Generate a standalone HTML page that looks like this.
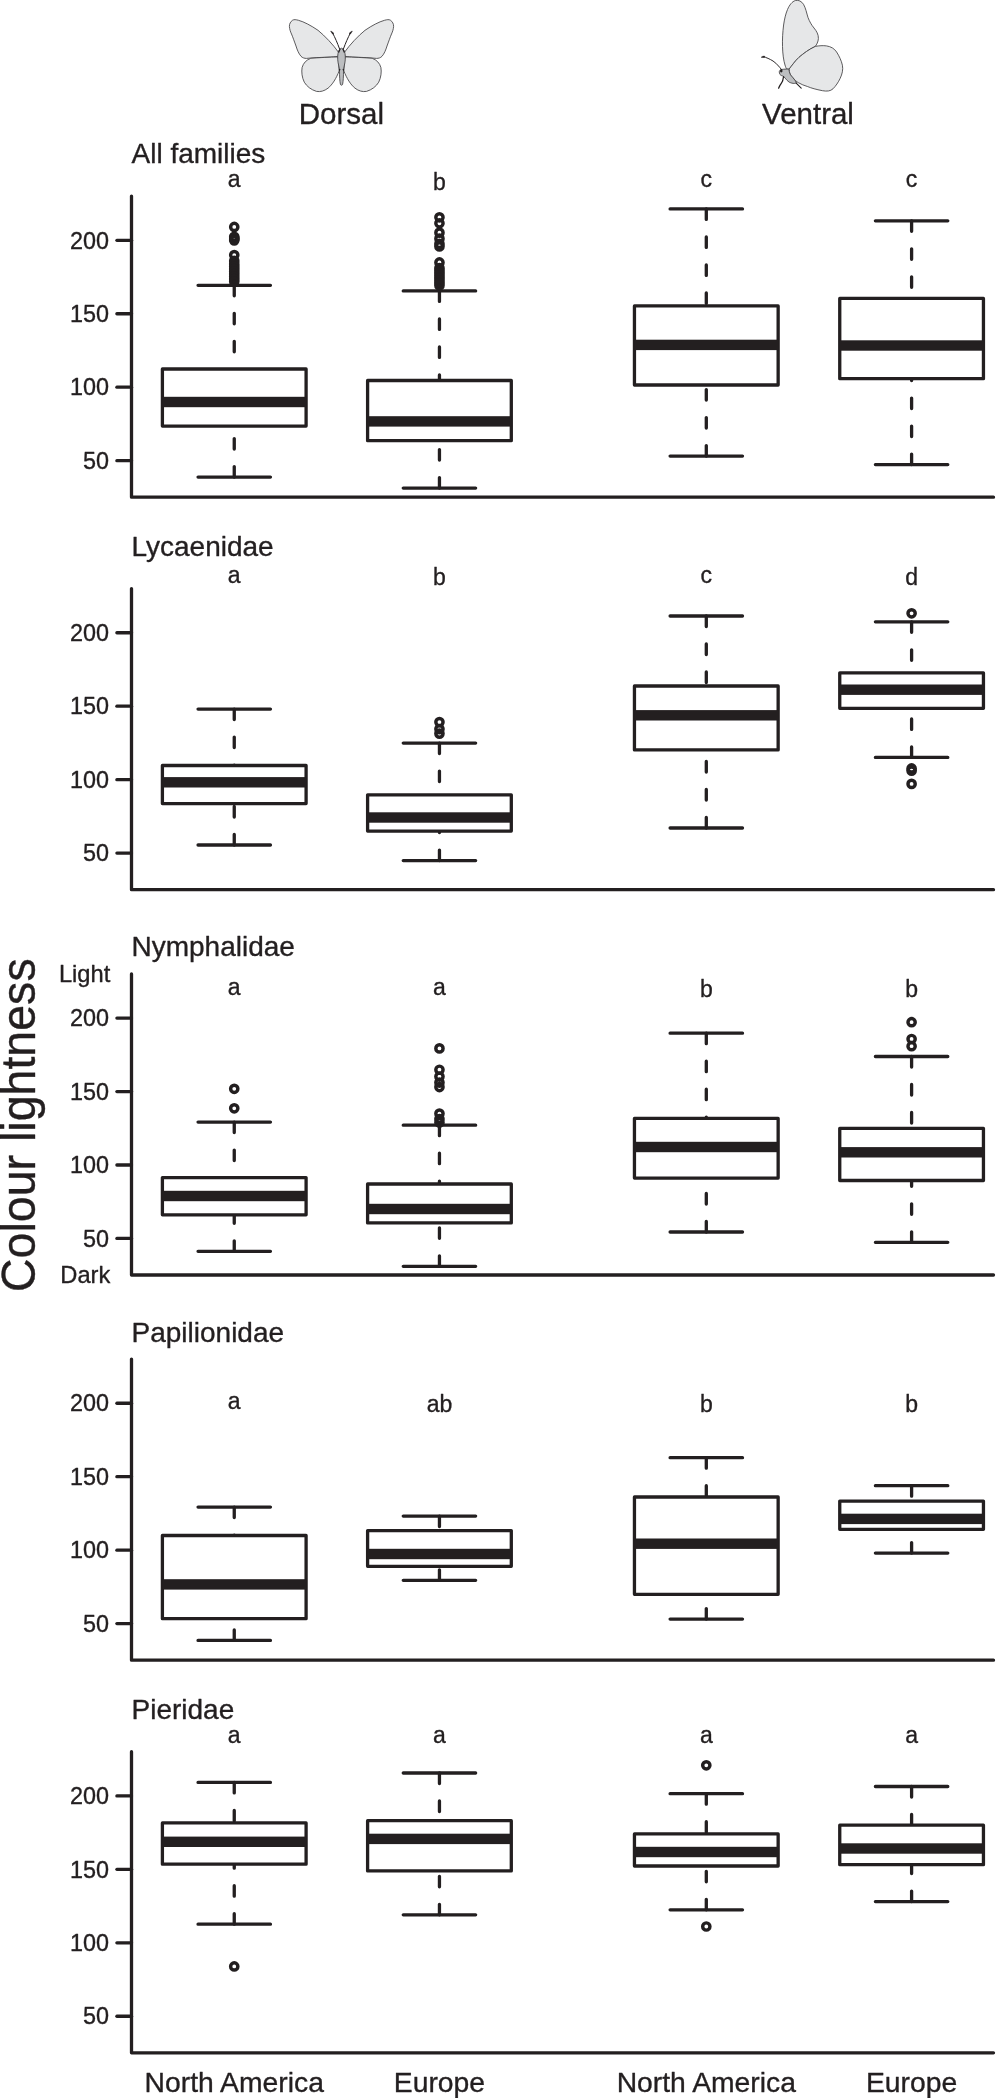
<!DOCTYPE html>
<html><head><meta charset="utf-8"><title>Colour lightness boxplots</title>
<style>
html,body{margin:0;padding:0;background:#fff;}
body{width:996px;height:2098px;overflow:hidden;}
svg{display:block;will-change:transform;}
text{font-family:"Liberation Sans",sans-serif;fill:#231f20;stroke:#231f20;stroke-width:0.35px;stroke-linejoin:round;}
.ln{fill:none;stroke:#231f20;stroke-width:3.3;stroke-linecap:round;stroke-linejoin:round;}
.ds{fill:none;stroke:#231f20;stroke-width:3.3;stroke-linecap:round;stroke-dasharray:10.5 17.5;}
.bx{fill:#fff;stroke:#231f20;stroke-width:3.3;stroke-linejoin:round;}
.oc{fill:none;stroke:#231f20;stroke-width:3.45;}
</style></head>
<body>
<svg width="996" height="2098" viewBox="0 0 996 2098">
<rect width="996" height="2098" fill="#fff"/>
<g id="dorsal" stroke="#414042" stroke-width="0.85" stroke-linejoin="round">
<g>
<path fill="#e6e7e8" d="M338.6,52.4 C333,44.5 325,36 318,30.3 C311,25.5 304,21.8 298.5,20.3 C296,19.6 294,19.3 292.6,20.2 C290.5,21.6 289.3,24 289.4,26.4 C289.6,29 290.3,31.5 291.5,34 C293,37.5 294.5,42 296,46 C297.2,50 298.8,53.8 301,56.3 C302.5,57.9 304.5,58.4 306.5,58.4 C312,57.9 320,57.4 327,57.2 C331.5,57 335.5,56.7 338.2,56.4 Z"/>
<path fill="#e6e7e8" d="M338.2,56.9 C330,57.2 318,57.6 310.8,58.3 C306.5,59.8 303.3,63 302.1,67.5 C301.3,72 302,77.5 304.3,82.2 C306.8,86.4 311,89.7 316.5,91.4 C320.3,92.1 324.3,91 328,88.2 C332.4,84.6 336.2,78.5 339.2,70.8 Z"/>
<path fill="none" stroke-width="1" stroke="#231f20" d="M339.6,49 C337.4,43 335,37.5 332.6,33"/>
<path fill="#231f20" stroke="#231f20" stroke-width="0.6" d="M330.7,31.2 C331.9,31.3 333.3,32.4 333.6,33.8 L332.4,33.8 C331.9,32.9 331.3,32 330.7,31.2 Z"/>
</g>
<g transform="translate(683,0) scale(-1,1)">
<path fill="#e6e7e8" d="M338.6,52.4 C333,44.5 325,36 318,30.3 C311,25.5 304,21.8 298.5,20.3 C296,19.6 294,19.3 292.6,20.2 C290.5,21.6 289.3,24 289.4,26.4 C289.6,29 290.3,31.5 291.5,34 C293,37.5 294.5,42 296,46 C297.2,50 298.8,53.8 301,56.3 C302.5,57.9 304.5,58.4 306.5,58.4 C312,57.9 320,57.4 327,57.2 C331.5,57 335.5,56.7 338.2,56.4 Z"/>
<path fill="#e6e7e8" d="M338.2,56.9 C330,57.2 318,57.6 310.8,58.3 C306.5,59.8 303.3,63 302.1,67.5 C301.3,72 302,77.5 304.3,82.2 C306.8,86.4 311,89.7 316.5,91.4 C320.3,92.1 324.3,91 328,88.2 C332.4,84.6 336.2,78.5 339.2,70.8 Z"/>
<path fill="none" stroke-width="1" stroke="#231f20" d="M339.6,49 C337.4,43 335,37.5 332.6,33"/>
<path fill="#231f20" stroke="#231f20" stroke-width="0.6" d="M330.7,31.2 C331.9,31.3 333.3,32.4 333.6,33.8 L332.4,33.8 C331.9,32.9 331.3,32 330.7,31.2 Z"/>
</g>
<path fill="#bcbec0" d="M341.5,48.2 C343.2,48.6 344.6,50.5 345.0,53.5 C345.6,57.5 345.3,62 344.2,66 C343.8,67.5 343.5,69 343.5,71 C343.5,76 343.3,81 342.6,84.3 C342.3,85.5 340.7,85.5 340.4,84.3 C339.7,81 339.5,76 339.5,71 C339.5,69 339.2,67.5 338.8,66 C337.7,62 337.4,57.5 338,53.5 C338.4,50.5 339.8,48.6 341.5,48.2 Z"/>
<path fill="none" stroke="#231f20" stroke-width="1.2" d="M338.6,52.4 L340.2,48.8 M344.4,52.4 L342.8,48.8 M339.4,70.6 L339.9,68.8 M343.6,70.6 L343.1,68.8"/>
</g>
<g id="ventral" stroke="#414042" stroke-width="0.85" stroke-linejoin="round">
<path fill="#e6e7e8" d="M789.1,69.1 C792,65.5 795,61 799,57.3 C803.5,53.5 809,49.3 815.3,46.4 C816.6,44.6 818.2,42 818.4,38.5 C818.6,34.5 816.5,31 814,28 C811.5,25 809.5,21.5 808,17.5 C806.6,13 805.7,8 803.5,4.3 C801.5,1.2 798.5,-0.2 795.5,0.5 C792,1.5 789.5,5 787.5,9.5 C785.6,14 784.4,19.5 783.6,25 C782.7,32 782.3,39.5 782.5,46.5 C782.7,54 783.6,60.5 785,65 C785.5,66.8 786,68 786.5,68.8 C787.3,69.1 788.2,69.2 789.1,69.1 Z"/>
<path fill="#e6e7e8" d="M815.3,46.4 C819,45.7 823,45.4 826.5,45.9 C831,46.6 834.3,48.5 836.6,52 C839.3,56.2 841.3,60.5 842.4,65.2 C843.3,69.6 842.2,74 840.2,78.3 C838.3,82.3 835.8,86 833,88.8 C830.4,91.2 827,91.5 822.5,90.7 C816,89.4 811.5,88.2 807.7,86.6 C804.5,85.6 801,84.3 798.2,82.6 C796.3,81.4 795,80.2 794.1,79.1 C792.3,77 790.8,75.5 790.1,74.1 C789.4,72.5 789.1,70.8 789.1,69.1 C792,65.5 795,61 799,57.3 C803.5,53.5 809,49.3 815.3,46.4 Z"/>
<path fill="#bcbec0" d="M780.5,69.8 C782,69.2 785,69 788.8,69.1 C789.1,70.8 789.4,72.5 790.1,74.1 C790.8,75.5 792.3,77 794.1,79.1 C795,80.2 795.8,81.5 796.4,82.8 C795.4,83.4 794.2,83.5 793.1,83.4 C791.5,83.2 790.2,82.7 789.1,82.1 C787.5,81 786.2,79.5 785.1,78.1 C784.4,77.3 783.8,76.6 783.1,76.1 C781.8,75.8 780.6,75.3 780.1,74.6 C779.4,73.6 779.2,72.5 779.3,71.5 C779.5,70.7 779.9,70.1 780.5,69.8 Z"/>
<path fill="#231f20" stroke="none" d="M780.4,69.7 C781.3,69.3 782.3,69.6 782.5,70.6 C782.7,71.6 782.1,72.5 781.2,72.6 C780.4,72.4 780,71.6 780,70.8 C780,70.3 780.1,69.9 780.4,69.7 Z"/>
<path fill="none" stroke="#231f20" stroke-width="0.95" stroke-linecap="round" d="M781.6,69.6 C780.5,68.2 779.3,66.9 778.5,66 C776.8,64 775,62.3 773,61 C769.8,59 766.3,57.5 763.5,56.7"/>
<path fill="#231f20" stroke="#231f20" stroke-width="0.5" d="M761.2,57.3 C761.7,56.5 763.3,56 764.8,56.3 L764.6,57.3 C763.5,57.6 762.3,57.7 761.2,57.3 Z"/>
<path fill="none" stroke="#231f20" stroke-width="1.25" stroke-linecap="round" d="M783.6,76.6 C783.2,78 783,79.6 782.6,81.1 C781.9,82.6 781,83.8 780.1,85.1 C779.5,86.1 779,87.2 778.6,88.2"/>
<path fill="none" stroke="#231f20" stroke-width="1.1" stroke-linecap="round" d="M796.2,83.1 C797.6,84.5 799.3,86.2 801.2,88.1"/>
</g>
<text x="341.45" y="124" font-size="29.5" text-anchor="middle">Dorsal</text>
<text x="808" y="124" font-size="29.5" text-anchor="middle">Ventral</text>
<text transform="translate(35.2,1125.2) rotate(-90) scale(1,1.035)" font-size="46.55" text-anchor="middle">Colour lightness</text>
<text x="110.3" y="982.2" font-size="23.7" text-anchor="end">Light</text>
<text x="110.3" y="1283" font-size="23.7" text-anchor="end">Dark</text>
<text x="131.5" y="163.2" font-size="28">All families</text>
<path class="ln" d="M131.5,196.1V497.2H993.5"/>
<path class="ln" d="M116.9,240.3H131.5"/>
<text x="109" y="248.5" font-size="23.4" text-anchor="end">200</text>
<path class="ln" d="M116.9,313.75H131.5"/>
<text x="109" y="321.95" font-size="23.4" text-anchor="end">150</text>
<path class="ln" d="M116.9,387.2H131.5"/>
<text x="109" y="395.4" font-size="23.4" text-anchor="end">100</text>
<path class="ln" d="M116.9,460.65H131.5"/>
<text x="109" y="468.85" font-size="23.4" text-anchor="end">50</text>
<path class="ds" d="M234.25,285.3V369M234.25,477.1V426.1"/>
<path class="ln" d="M198.05,285.3H270.45M198.05,477.1H270.45"/>
<rect class="bx" x="162.4" y="369" width="143.7" height="57.1"/>
<rect fill="#231f20" x="162.4" y="396.8" width="143.7" height="10.4"/>
<circle class="oc" cx="234.25" cy="226.95" r="3.62"/>
<circle class="oc" cx="234.25" cy="236.85" r="3.62"/>
<circle class="oc" cx="234.25" cy="238.1" r="3.62"/>
<circle class="oc" cx="234.25" cy="239.3" r="3.62"/>
<circle class="oc" cx="234.25" cy="240.35" r="3.62"/>
<circle class="oc" cx="234.25" cy="255.05" r="3.62"/>
<circle class="oc" cx="234.25" cy="260.9" r="3.62"/>
<circle class="oc" cx="234.25" cy="264" r="3.62"/>
<circle class="oc" cx="234.25" cy="266.5" r="3.62"/>
<circle class="oc" cx="234.25" cy="269" r="3.62"/>
<circle class="oc" cx="234.25" cy="271.5" r="3.62"/>
<circle class="oc" cx="234.25" cy="274" r="3.62"/>
<circle class="oc" cx="234.25" cy="276.5" r="3.62"/>
<circle class="oc" cx="234.25" cy="279" r="3.62"/>
<circle class="oc" cx="234.25" cy="281.5" r="3.62"/>
<text x="234.25" y="187.4" font-size="23" text-anchor="middle">a</text>
<path class="ds" d="M439.45,290.9V380.5M439.45,488.1V440.7"/>
<path class="ln" d="M403.25,290.9H475.65M403.25,488.1H475.65"/>
<rect class="bx" x="367.6" y="380.5" width="143.7" height="60.2"/>
<rect fill="#231f20" x="367.6" y="416.2" width="143.7" height="10.4"/>
<circle class="oc" cx="439.45" cy="217.3" r="3.62"/>
<circle class="oc" cx="439.45" cy="223.25" r="3.62"/>
<circle class="oc" cx="439.45" cy="232.65" r="3.62"/>
<circle class="oc" cx="439.45" cy="238.65" r="3.62"/>
<circle class="oc" cx="439.45" cy="243.75" r="3.62"/>
<circle class="oc" cx="439.45" cy="246.5" r="3.62"/>
<circle class="oc" cx="439.45" cy="262.45" r="3.62"/>
<circle class="oc" cx="439.45" cy="268.05" r="3.62"/>
<circle class="oc" cx="439.45" cy="270.5" r="3.62"/>
<circle class="oc" cx="439.45" cy="273" r="3.62"/>
<circle class="oc" cx="439.45" cy="275.5" r="3.62"/>
<circle class="oc" cx="439.45" cy="278" r="3.62"/>
<circle class="oc" cx="439.45" cy="280.5" r="3.62"/>
<circle class="oc" cx="439.45" cy="283" r="3.62"/>
<circle class="oc" cx="439.45" cy="285.5" r="3.62"/>
<text x="439.45" y="189.7" font-size="23" text-anchor="middle">b</text>
<path class="ds" d="M706.3,208.9V305.9M706.3,456.1V385"/>
<path class="ln" d="M670.1,208.9H742.5M670.1,456.1H742.5"/>
<rect class="bx" x="634.45" y="305.9" width="143.7" height="79.1"/>
<rect fill="#231f20" x="634.45" y="339.7" width="143.7" height="10.4"/>
<text x="706.3" y="187.4" font-size="23" text-anchor="middle">c</text>
<path class="ds" d="M911.6,220.8V298.4M911.6,464.6V378.7"/>
<path class="ln" d="M875.4,220.8H947.8M875.4,464.6H947.8"/>
<rect class="bx" x="839.75" y="298.4" width="143.7" height="80.3"/>
<rect fill="#231f20" x="839.75" y="340.3" width="143.7" height="10.4"/>
<text x="911.6" y="187.4" font-size="23" text-anchor="middle">c</text>
<text x="131.5" y="555.5" font-size="28">Lycaenidae</text>
<path class="ln" d="M131.5,588.55V889.65H993.5"/>
<path class="ln" d="M116.9,632.75H131.5"/>
<text x="109" y="640.95" font-size="23.4" text-anchor="end">200</text>
<path class="ln" d="M116.9,706.2H131.5"/>
<text x="109" y="714.4" font-size="23.4" text-anchor="end">150</text>
<path class="ln" d="M116.9,779.65H131.5"/>
<text x="109" y="787.85" font-size="23.4" text-anchor="end">100</text>
<path class="ln" d="M116.9,853.1H131.5"/>
<text x="109" y="861.3" font-size="23.4" text-anchor="end">50</text>
<path class="ds" d="M234.25,709.1V765.5M234.25,845V803.6"/>
<path class="ln" d="M198.05,709.1H270.45M198.05,845H270.45"/>
<rect class="bx" x="162.4" y="765.5" width="143.7" height="38.1"/>
<rect fill="#231f20" x="162.4" y="777.1" width="143.7" height="10.4"/>
<text x="234.25" y="583" font-size="23" text-anchor="middle">a</text>
<path class="ds" d="M439.45,743.1V794.8M439.45,860.6V831.1"/>
<path class="ln" d="M403.25,743.1H475.65M403.25,860.6H475.65"/>
<rect class="bx" x="367.6" y="794.8" width="143.7" height="36.3"/>
<rect fill="#231f20" x="367.6" y="812.3" width="143.7" height="10.4"/>
<circle class="oc" cx="439.45" cy="722.1" r="3.62"/>
<circle class="oc" cx="439.45" cy="729.1" r="3.62"/>
<circle class="oc" cx="439.45" cy="733.6" r="3.62"/>
<text x="439.45" y="585.3" font-size="23" text-anchor="middle">b</text>
<path class="ds" d="M706.3,616V686M706.3,828V749.9"/>
<path class="ln" d="M670.1,616H742.5M670.1,828H742.5"/>
<rect class="bx" x="634.45" y="686" width="143.7" height="63.9"/>
<rect fill="#231f20" x="634.45" y="710.1" width="143.7" height="10.4"/>
<text x="706.3" y="583" font-size="23" text-anchor="middle">c</text>
<path class="ds" d="M911.6,621.8V672.8M911.6,757.4V708.3"/>
<path class="ln" d="M875.4,621.8H947.8M875.4,757.4H947.8"/>
<rect class="bx" x="839.75" y="672.8" width="143.7" height="35.5"/>
<rect fill="#231f20" x="839.75" y="684.5" width="143.7" height="10.4"/>
<circle class="oc" cx="911.6" cy="613.3" r="3.62"/>
<circle class="oc" cx="911.6" cy="768.45" r="3.62"/>
<circle class="oc" cx="911.6" cy="770.75" r="3.62"/>
<circle class="oc" cx="911.6" cy="783.9" r="3.62"/>
<text x="911.6" y="585.3" font-size="23" text-anchor="middle">d</text>
<text x="131.5" y="955.7" font-size="28">Nymphalidae</text>
<path class="ln" d="M131.5,973.9V1275H993.5"/>
<path class="ln" d="M116.9,1018.1H131.5"/>
<text x="109" y="1026.3" font-size="23.4" text-anchor="end">200</text>
<path class="ln" d="M116.9,1091.55H131.5"/>
<text x="109" y="1099.75" font-size="23.4" text-anchor="end">150</text>
<path class="ln" d="M116.9,1165H131.5"/>
<text x="109" y="1173.2" font-size="23.4" text-anchor="end">100</text>
<path class="ln" d="M116.9,1238.45H131.5"/>
<text x="109" y="1246.65" font-size="23.4" text-anchor="end">50</text>
<path class="ds" d="M234.25,1122.1V1177.6M234.25,1251.3V1214.8"/>
<path class="ln" d="M198.05,1122.1H270.45M198.05,1251.3H270.45"/>
<rect class="bx" x="162.4" y="1177.6" width="143.7" height="37.2"/>
<rect fill="#231f20" x="162.4" y="1190.8" width="143.7" height="10.4"/>
<circle class="oc" cx="234.25" cy="1088.8" r="3.62"/>
<circle class="oc" cx="234.25" cy="1108.3" r="3.62"/>
<text x="234.25" y="994.5" font-size="23" text-anchor="middle">a</text>
<path class="ds" d="M439.45,1125.2V1184M439.45,1266.3V1222.9"/>
<path class="ln" d="M403.25,1125.2H475.65M403.25,1266.3H475.65"/>
<rect class="bx" x="367.6" y="1184" width="143.7" height="38.9"/>
<rect fill="#231f20" x="367.6" y="1203.8" width="143.7" height="10.4"/>
<circle class="oc" cx="439.45" cy="1048.4" r="3.62"/>
<circle class="oc" cx="439.45" cy="1069.75" r="3.62"/>
<circle class="oc" cx="439.45" cy="1076.55" r="3.62"/>
<circle class="oc" cx="439.45" cy="1082.55" r="3.62"/>
<circle class="oc" cx="439.45" cy="1087.05" r="3.62"/>
<circle class="oc" cx="439.45" cy="1113.55" r="3.62"/>
<circle class="oc" cx="439.45" cy="1119.05" r="3.62"/>
<circle class="oc" cx="439.45" cy="1122.5" r="3.62"/>
<text x="439.45" y="994.5" font-size="23" text-anchor="middle">a</text>
<path class="ds" d="M706.3,1033.2V1118.4M706.3,1232V1178.1"/>
<path class="ln" d="M670.1,1033.2H742.5M670.1,1232H742.5"/>
<rect class="bx" x="634.45" y="1118.4" width="143.7" height="59.7"/>
<rect fill="#231f20" x="634.45" y="1141.8" width="143.7" height="10.4"/>
<text x="706.3" y="996.8" font-size="23" text-anchor="middle">b</text>
<path class="ds" d="M911.6,1056.5V1128.3M911.6,1242.3V1180.5"/>
<path class="ln" d="M875.4,1056.5H947.8M875.4,1242.3H947.8"/>
<rect class="bx" x="839.75" y="1128.3" width="143.7" height="52.2"/>
<rect fill="#231f20" x="839.75" y="1147.1" width="143.7" height="10.4"/>
<circle class="oc" cx="911.6" cy="1022.2" r="3.62"/>
<circle class="oc" cx="911.6" cy="1039" r="3.62"/>
<circle class="oc" cx="911.6" cy="1046.2" r="3.62"/>
<text x="911.6" y="996.8" font-size="23" text-anchor="middle">b</text>
<text x="131.5" y="1341.7" font-size="28">Papilionidae</text>
<path class="ln" d="M131.5,1359.05V1660.15H993.5"/>
<path class="ln" d="M116.9,1403.25H131.5"/>
<text x="109" y="1411.45" font-size="23.4" text-anchor="end">200</text>
<path class="ln" d="M116.9,1476.7H131.5"/>
<text x="109" y="1484.9" font-size="23.4" text-anchor="end">150</text>
<path class="ln" d="M116.9,1550.15H131.5"/>
<text x="109" y="1558.35" font-size="23.4" text-anchor="end">100</text>
<path class="ln" d="M116.9,1623.6H131.5"/>
<text x="109" y="1631.8" font-size="23.4" text-anchor="end">50</text>
<path class="ds" d="M234.25,1507.1V1535.5M234.25,1640.4V1618.7"/>
<path class="ln" d="M198.05,1507.1H270.45M198.05,1640.4H270.45"/>
<rect class="bx" x="162.4" y="1535.5" width="143.7" height="83.2"/>
<rect fill="#231f20" x="162.4" y="1579.2" width="143.7" height="10.4"/>
<text x="234.25" y="1409.4" font-size="23" text-anchor="middle">a</text>
<path class="ds" d="M439.45,1516.1V1530.6M439.45,1580.3V1566.3"/>
<path class="ln" d="M403.25,1516.1H475.65M403.25,1580.3H475.65"/>
<rect class="bx" x="367.6" y="1530.6" width="143.7" height="35.7"/>
<rect fill="#231f20" x="367.6" y="1548.8" width="143.7" height="10.4"/>
<text x="439.45" y="1411.7" font-size="23" text-anchor="middle">ab</text>
<path class="ds" d="M706.3,1457.7V1497M706.3,1619.1V1594.3"/>
<path class="ln" d="M670.1,1457.7H742.5M670.1,1619.1H742.5"/>
<rect class="bx" x="634.45" y="1497" width="143.7" height="97.3"/>
<rect fill="#231f20" x="634.45" y="1538.5" width="143.7" height="10.4"/>
<text x="706.3" y="1411.7" font-size="23" text-anchor="middle">b</text>
<path class="ds" d="M911.6,1485.7V1501.1M911.6,1553.1V1529.3"/>
<path class="ln" d="M875.4,1485.7H947.8M875.4,1553.1H947.8"/>
<rect class="bx" x="839.75" y="1501.1" width="143.7" height="28.2"/>
<rect fill="#231f20" x="839.75" y="1513.7" width="143.7" height="10.4"/>
<text x="911.6" y="1411.7" font-size="23" text-anchor="middle">b</text>
<text x="131.5" y="1718.5" font-size="28">Pieridae</text>
<path class="ln" d="M131.5,1751.7V2052.8H993.5"/>
<path class="ln" d="M116.9,1795.9H131.5"/>
<text x="109" y="1804.1" font-size="23.4" text-anchor="end">200</text>
<path class="ln" d="M116.9,1869.35H131.5"/>
<text x="109" y="1877.55" font-size="23.4" text-anchor="end">150</text>
<path class="ln" d="M116.9,1942.8H131.5"/>
<text x="109" y="1951" font-size="23.4" text-anchor="end">100</text>
<path class="ln" d="M116.9,2016.25H131.5"/>
<text x="109" y="2024.45" font-size="23.4" text-anchor="end">50</text>
<path class="ds" d="M234.25,1782.4V1822.9M234.25,1924.2V1864.2"/>
<path class="ln" d="M198.05,1782.4H270.45M198.05,1924.2H270.45"/>
<rect class="bx" x="162.4" y="1822.9" width="143.7" height="41.3"/>
<rect fill="#231f20" x="162.4" y="1836.6" width="143.7" height="10.4"/>
<circle class="oc" cx="234.25" cy="1966.45" r="3.62"/>
<text x="234.25" y="1742.8" font-size="23" text-anchor="middle">a</text>
<path class="ds" d="M439.45,1773V1820.7M439.45,1914.8V1870.9"/>
<path class="ln" d="M403.25,1773H475.65M403.25,1914.8H475.65"/>
<rect class="bx" x="367.6" y="1820.7" width="143.7" height="50.2"/>
<rect fill="#231f20" x="367.6" y="1833.7" width="143.7" height="10.4"/>
<text x="439.45" y="1742.8" font-size="23" text-anchor="middle">a</text>
<path class="ds" d="M706.3,1793.7V1833.9M706.3,1909.8V1866"/>
<path class="ln" d="M670.1,1793.7H742.5M670.1,1909.8H742.5"/>
<rect class="bx" x="634.45" y="1833.9" width="143.7" height="32.1"/>
<rect fill="#231f20" x="634.45" y="1846.8" width="143.7" height="10.4"/>
<circle class="oc" cx="706.3" cy="1765.3" r="3.62"/>
<circle class="oc" cx="706.3" cy="1926.5" r="3.62"/>
<text x="706.3" y="1742.8" font-size="23" text-anchor="middle">a</text>
<path class="ds" d="M911.6,1786.5V1825.2M911.6,1901.6V1864.7"/>
<path class="ln" d="M875.4,1786.5H947.8M875.4,1901.6H947.8"/>
<rect class="bx" x="839.75" y="1825.2" width="143.7" height="39.5"/>
<rect fill="#231f20" x="839.75" y="1843.3" width="143.7" height="10.4"/>
<text x="911.6" y="1742.8" font-size="23" text-anchor="middle">a</text>
<text x="234.25" y="2091.8" font-size="28.3" text-anchor="middle">North America</text>
<text x="439.45" y="2091.8" font-size="28.3" text-anchor="middle">Europe</text>
<text x="706.3" y="2091.8" font-size="28.3" text-anchor="middle">North America</text>
<text x="911.6" y="2091.8" font-size="28.3" text-anchor="middle">Europe</text>
</svg>
</body></html>
